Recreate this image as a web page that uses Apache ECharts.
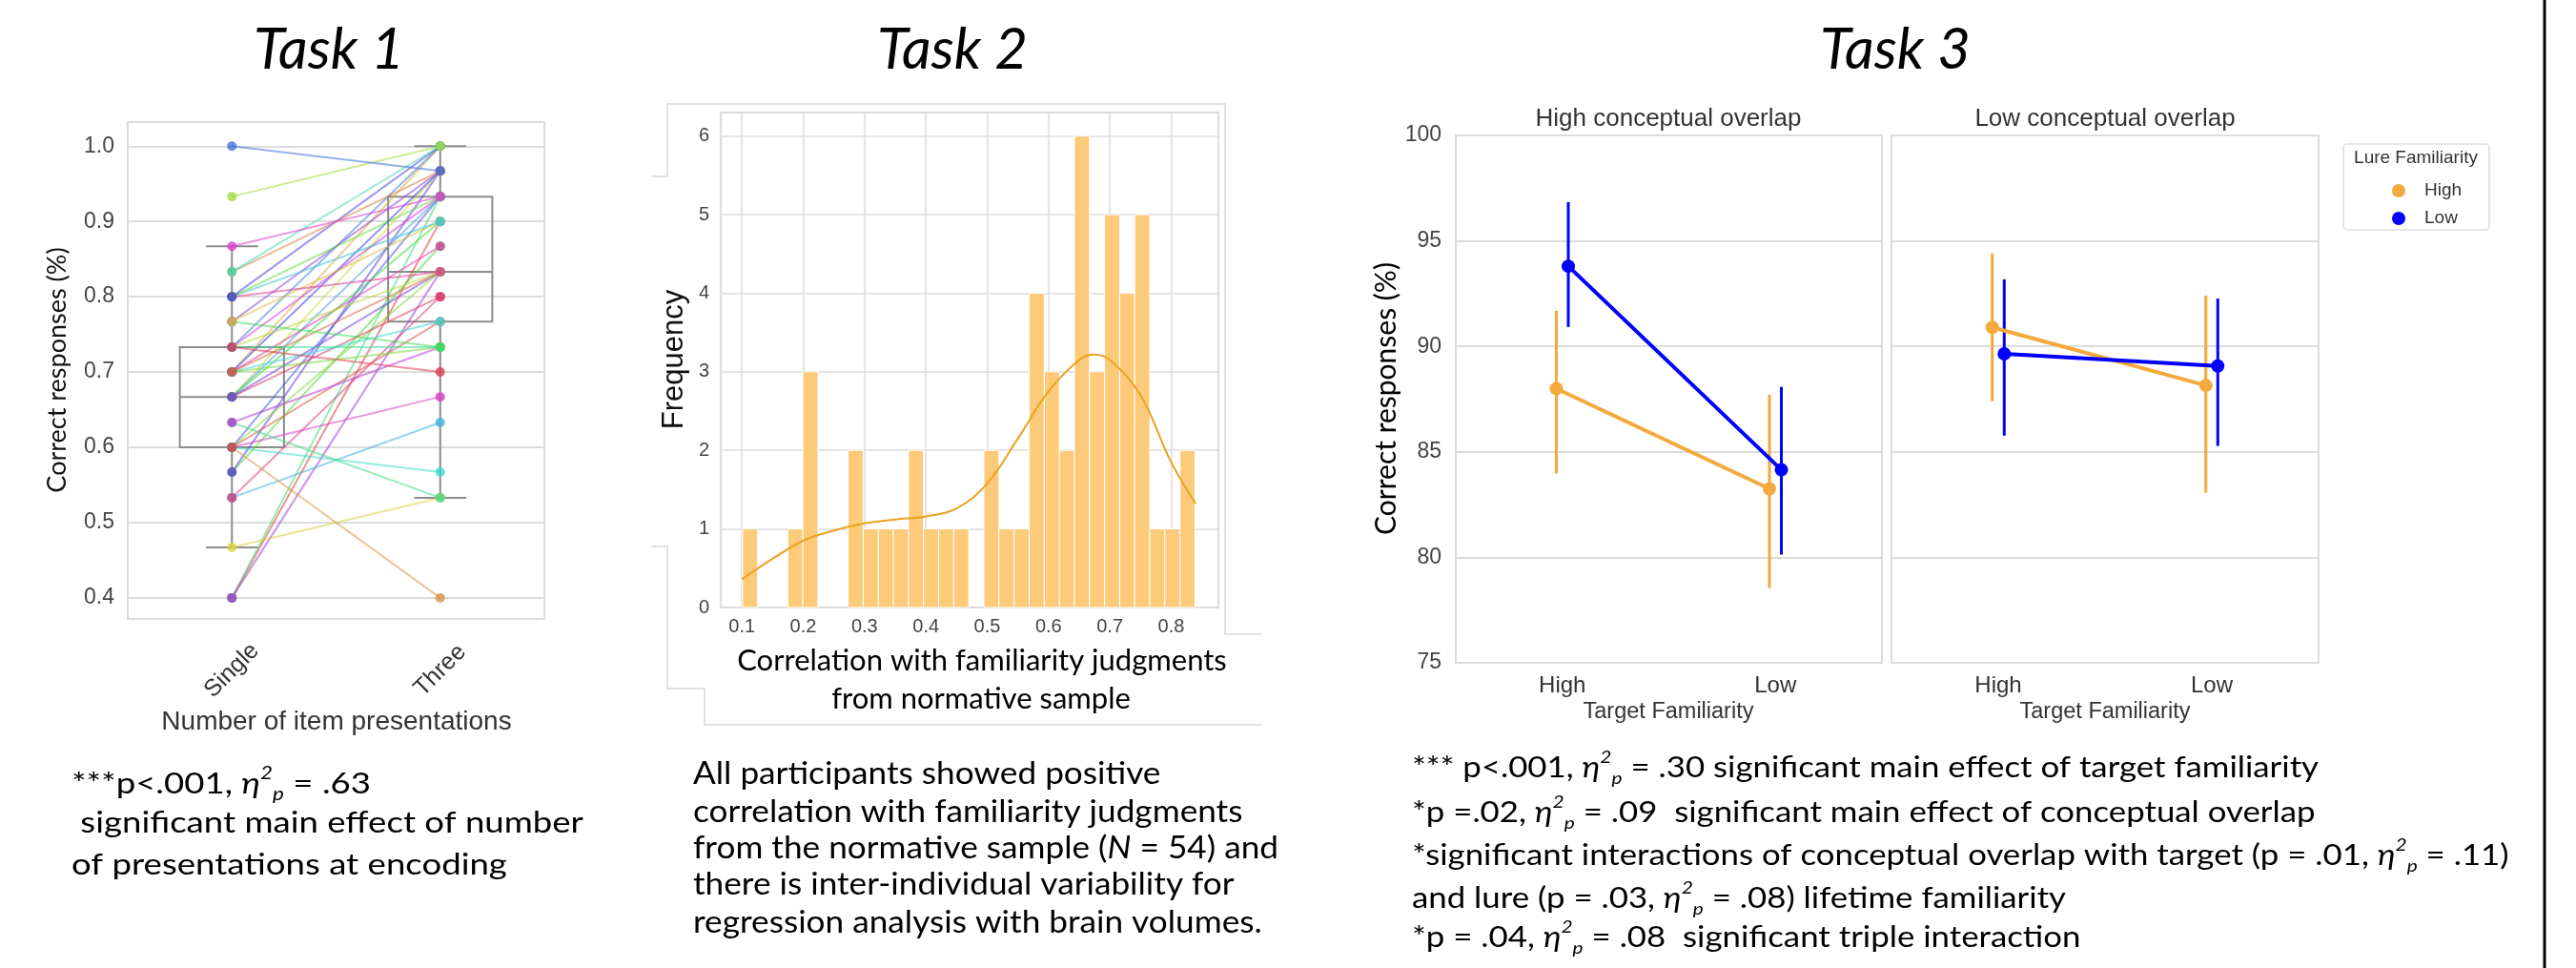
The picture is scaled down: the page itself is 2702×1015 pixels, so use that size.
<!DOCTYPE html>
<html>
<head>
<meta charset="utf-8">
<script src="https://cdn.jsdelivr.net/npm/echarts@6/dist/echarts.min.js"></script>
<style>
  html, body { margin: 0; padding: 0; background: #fff; }
  #main { width: 2702px; height: 1015px; }
</style>
</head>
<body>
<div id="main"></div>
<script>
// ---- Task 1: paired correct responses, single vs three presentations
const presentations = ['Single', 'Three'];
const singleVals = [0.400, 0.400, 0.400, 0.467, 0.533, 0.533, 0.567, 0.567, 0.600, 0.600, 0.600,
  0.600, 0.600, 0.600, 0.633, 0.633, 0.667, 0.667, 0.667, 0.667, 0.667, 0.700, 0.700, 0.700,
  0.700, 0.700, 0.700, 0.733, 0.733, 0.733, 0.733, 0.733, 0.767, 0.767, 0.767, 0.800, 0.800,
  0.800, 0.800, 0.833, 0.833, 0.867, 0.933, 1.000];
const threeVals = [0.900, 0.933, 0.833, 0.533, 0.633, 0.800, 0.867, 0.967, 0.400, 0.567, 0.667,
  0.833, 0.933, 0.767, 0.533, 0.733, 0.967, 0.933, 0.800, 0.900, 0.833, 1.000, 0.767, 0.867,
  0.733, 0.967, 0.833, 0.733, 0.933, 0.833, 1.000, 0.700, 0.733, 0.967, 0.900, 0.900, 0.833,
  0.933, 1.000, 0.967, 1.000, 0.933, 1.000, 0.967];
// [lower whisker, q1, median, q3, upper whisker]
const boxSingle = [0.467, 0.600, 0.667, 0.733, 0.867];
const boxThree = [0.533, 0.767, 0.833, 0.933, 1.000];
const t1Ticks = [0.4, 0.5, 0.6, 0.7, 0.8, 0.9, 1.0];

// ---- Task 2: histogram of correlations
const binStart = 0.101;
const binWidth = 0.0246;
const binCounts = [1, 0, 0, 1, 3, 0, 0, 2, 1, 1, 1, 2, 1, 1, 1, 0, 2, 1, 1, 4, 3, 2, 6, 3, 5, 4, 5, 1, 1, 2];
const kdeX = [0.10, 0.15, 0.20, 0.25, 0.30, 0.35, 0.40, 0.45, 0.50, 0.55, 0.60, 0.65, 0.675, 0.70, 0.75, 0.80, 0.84];
const kdeY = [0.36, 0.62, 0.85, 0.98, 1.07, 1.12, 1.16, 1.26, 1.58, 2.15, 2.75, 3.15, 3.22, 3.15, 2.70, 1.85, 1.32];
const t2XTicks = [0.1, 0.2, 0.3, 0.4, 0.5, 0.6, 0.7, 0.8];
const t2YTicks = [0, 1, 2, 3, 4, 5, 6];

// ---- Task 3: point plot, mean and CI per target familiarity
const overlapPanels = ['High conceptual overlap', 'Low conceptual overlap'];
const targetLevels = ['High', 'Low'];
const lureLevels = ['High', 'Low'];
const hiOverlapLureHigh = [88.0, 83.25];
const hiOverlapLureHighCI = [[83.97, 91.69], [78.55, 87.71]];
const hiOverlapLureLow = [93.8, 84.15];
const hiOverlapLureLowCI = [[90.92, 96.84], [80.13, 88.08]];
const loOverlapLureHigh = [90.9, 88.15];
const loOverlapLureHighCI = [[87.4, 94.4], [83.06, 92.41]];
const loOverlapLureLow = [89.65, 89.07];
const loOverlapLureLowCI = [[85.77, 93.18], [85.28, 92.27]];

const SANS = 'Liberation Sans, Arial, sans-serif';
const BODY = 'Lato, Open Sans, sans-serif';
const GRID_C = '#dcdcdc';
const ORANGE = '#f4a93c';
const BLUE = '#0000ff';
const DODGE = 0.028;

function pairColor(i) {
  const n = singleVals.length;
  const h = ((i * 17) % n) / n * 360;
  return 'hsl(' + h.toFixed(0) + ',68%,55%)';
}

// rich text styles for captions (eta squared with sub/superscript)
function richStyles(fs) {
  const small = Math.round(fs * 0.6);
  return {
    t: { fontSize: fs, fontFamily: BODY, fill: '#000', lineHeight: fs + 10 },
    i: { fontSize: fs, fontFamily: BODY, fontStyle: 'italic', fill: '#000', lineHeight: fs + 10 },
    sup: { fontSize: small, fontFamily: BODY, fontStyle: 'italic', fill: '#000', verticalAlign: 'top', lineHeight: small },
    sub: { fontSize: small, fontFamily: BODY, fontStyle: 'italic', fill: '#000', verticalAlign: 'bottom', lineHeight: small }
  };
}
const eta = '{i|η}{sup|2}{sub|p}';

function caption(x, y, text, fs, sx) {
  return {
    type: 'text', x: x, y: y, scaleX: sx, silent: true,
    style: { text: text, rich: richStyles(fs), align: 'left', verticalAlign: 'middle' }
  };
}
function label(x, y, text, fs, font, color, extra) {
  return Object.assign({
    type: 'text', x: x, y: y, silent: true,
    style: { text: text, fontSize: fs, fontFamily: font, fill: color, align: 'center', verticalAlign: 'middle' }
  }, extra || {});
}
function title(x, text) {
  return {
    type: 'text', x: x, y: 53, silent: true,
    style: { text: text, fontSize: 60, fontFamily: BODY, fontStyle: 'italic', fill: '#000', align: 'center', verticalAlign: 'middle' }
  };
}

const chart = echarts.init(document.getElementById('main'), null, { renderer: 'canvas' });

const t3Series = [];
const panelData = [
  [hiOverlapLureHigh, hiOverlapLureHighCI, hiOverlapLureLow, hiOverlapLureLowCI],
  [loOverlapLureHigh, loOverlapLureHighCI, loOverlapLureLow, loOverlapLureLowCI]
];
panelData.forEach(function (pd, p) {
  const axis = 2 + p;
  [[pd[0], pd[1], ORANGE, -DODGE, lureLevels[0]], [pd[2], pd[3], BLUE, DODGE, lureLevels[1]]].forEach(function (s) {
    const means = s[0], ci = s[1], color = s[2], off = s[3];
    t3Series.push({
      type: 'custom', name: 'ci', xAxisIndex: axis, yAxisIndex: axis, z: 2,
      data: ci.map(function (c, k) { return [k + off, c[0], c[1]]; }),
      renderItem: function (params, api) {
        const a = api.coord([api.value(0), api.value(1)]);
        const b = api.coord([api.value(0), api.value(2)]);
        return { type: 'line', shape: { x1: a[0], y1: a[1], x2: b[0], y2: b[1] }, style: { stroke: color, lineWidth: 3 } };
      }
    });
    t3Series.push({
      type: 'line', name: s[4], xAxisIndex: axis, yAxisIndex: axis, z: 3,
      data: means.map(function (m, k) { return [k + off, m]; }),
      symbol: 'circle', symbolSize: 14,
      itemStyle: { color: color }, lineStyle: { color: color, width: 4 }
    });
  });
});

const option = {
  animation: false,
  backgroundColor: '#fff',
  grid: [
    { left: 134, top: 128, width: 437, height: 521, show: true, borderColor: GRID_C, borderWidth: 2 },
    { left: 756, top: 118, width: 522, height: 519, show: true, borderColor: GRID_C, borderWidth: 2 },
    { left: 1527, top: 142, width: 447, height: 553, show: true, borderColor: GRID_C, borderWidth: 2 },
    { left: 1984, top: 142, width: 448, height: 553, show: true, borderColor: GRID_C, borderWidth: 2 }
  ],
  xAxis: [
    {
      gridIndex: 0, type: 'category', data: presentations, boundaryGap: true,
      axisLine: { show: false }, axisTick: { show: false }, splitLine: { show: false },
      axisLabel: { rotate: 45, align: 'center', verticalAlign: 'middle', margin: 54, fontSize: 25, fontFamily: SANS, color: '#333' }
    },
    {
      gridIndex: 1, type: 'value', min: 0.0655, max: 0.877,
      axisLine: { show: false }, axisTick: { show: false, customValues: t2XTicks },
      axisLabel: { customValues: t2XTicks, formatter: function (v) { return v.toFixed(1); }, margin: 10, fontSize: 20, fontFamily: SANS, color: '#444' },
      splitLine: { show: true, lineStyle: { color: GRID_C, width: 1.5 } }
    },
    {
      gridIndex: 2, type: 'value', min: -0.5, max: 1.5,
      axisLine: { show: false }, axisTick: { show: false, customValues: [0, 1] },
      axisLabel: { customValues: [0, 1], formatter: function (v) { return targetLevels[Math.round(v)]; }, margin: 12, fontSize: 24, fontFamily: SANS, color: '#333' },
      splitLine: { show: false }
    },
    {
      gridIndex: 3, type: 'value', min: -0.5, max: 1.5,
      axisLine: { show: false }, axisTick: { show: false, customValues: [0, 1] },
      axisLabel: { customValues: [0, 1], formatter: function (v) { return targetLevels[Math.round(v)]; }, margin: 12, fontSize: 24, fontFamily: SANS, color: '#333' },
      splitLine: { show: false }
    }
  ],
  yAxis: [
    {
      gridIndex: 0, type: 'value', min: 0.372, max: 1.032,
      axisLine: { show: false }, axisTick: { show: false, customValues: t1Ticks },
      axisLabel: { customValues: t1Ticks, formatter: function (v) { return v.toFixed(1); }, margin: 14, fontSize: 23, fontFamily: SANS, color: '#444' },
      splitLine: { show: true, lineStyle: { color: GRID_C, width: 2 } }
    },
    {
      gridIndex: 1, type: 'value', min: 0, max: 6.3,
      axisLine: { show: false }, axisTick: { show: false, customValues: t2YTicks },
      axisLabel: { customValues: t2YTicks, margin: 12, fontSize: 20, fontFamily: SANS, color: '#444' },
      splitLine: { show: true, lineStyle: { color: GRID_C, width: 1.5 } }
    },
    {
      gridIndex: 2, type: 'value', min: 75, max: 100, interval: 5,
      axisLine: { show: false }, axisTick: { show: false },
      axisLabel: { margin: 15, fontSize: 23, fontFamily: SANS, color: '#444' },
      splitLine: { show: true, lineStyle: { color: GRID_C, width: 2 } }
    },
    {
      gridIndex: 3, type: 'value', min: 75, max: 100, interval: 5,
      axisLine: { show: false }, axisTick: { show: false }, axisLabel: { show: false },
      splitLine: { show: true, lineStyle: { color: GRID_C, width: 2 } }
    }
  ],
  legend: {
    data: lureLevels, orient: 'vertical', left: 2504, top: 185,
    icon: 'circle', itemWidth: 32, itemHeight: 14, itemGap: 9,
    textStyle: { fontSize: 19, fontFamily: SANS, color: '#333', lineHeight: 20, padding: [0, 0, 0, 6] }
  },
  series: [
    {
      type: 'custom', name: 'box', xAxisIndex: 0, yAxisIndex: 0, z: 1,
      data: [[0].concat(boxSingle), [1].concat(boxThree)],
      renderItem: function (params, api) {
        const x = api.coord([api.value(0), api.value(3)])[0];
        const band = api.size([1, 0])[0];
        const half = band * 0.25, cap = band * 0.125;
        const y = [1, 2, 3, 4, 5].map(function (k) { return api.coord([api.value(0), api.value(k)])[1]; });
        const st = { stroke: '#8c8c8c', lineWidth: 2, fill: null };
        return {
          type: 'group', children: [
            { type: 'rect', shape: { x: x - half, y: y[3], width: half * 2, height: y[1] - y[3] }, style: st },
            { type: 'line', shape: { x1: x - half, y1: y[2], x2: x + half, y2: y[2] }, style: st },
            { type: 'line', shape: { x1: x, y1: y[3], x2: x, y2: y[4] }, style: st },
            { type: 'line', shape: { x1: x, y1: y[1], x2: x, y2: y[0] }, style: st },
            { type: 'line', shape: { x1: x - cap, y1: y[4], x2: x + cap, y2: y[4] }, style: st },
            { type: 'line', shape: { x1: x - cap, y1: y[0], x2: x + cap, y2: y[0] }, style: st }
          ]
        };
      }
    },
    {
      type: 'custom', name: 'pairs', xAxisIndex: 0, yAxisIndex: 0, z: 2,
      data: singleVals.map(function (s, i) { return [i, s, threeVals[i]]; }),
      renderItem: function (params, api) {
        const a = api.coord([0, api.value(1)]);
        const b = api.coord([1, api.value(2)]);
        return {
          type: 'line', shape: { x1: a[0], y1: a[1], x2: b[0], y2: b[1] },
          style: { stroke: pairColor(api.value(0)), lineWidth: 2, opacity: 0.55 }
        };
      }
    },
    {
      type: 'scatter', name: 'points', xAxisIndex: 0, yAxisIndex: 0, z: 3, symbolSize: 10,
      data: singleVals.map(function (v, i) { return { value: [0, v], itemStyle: { color: pairColor(i) } }; })
        .concat(threeVals.map(function (v, i) { return { value: [1, v], itemStyle: { color: pairColor(i) } }; }))
    },
    {
      type: 'custom', name: 'hist', xAxisIndex: 1, yAxisIndex: 1, z: 2,
      data: binCounts.map(function (c, i) { return [binStart + i * binWidth, c]; }).filter(function (d) { return d[1] > 0; }),
      renderItem: function (params, api) {
        const p0 = api.coord([api.value(0), api.value(1)]);
        const p1 = api.coord([api.value(0) + binWidth, 0]);
        return {
          type: 'rect', shape: { x: p0[0], y: p0[1], width: p1[0] - p0[0], height: p1[1] - p0[1] },
          style: { fill: '#fdca7a', stroke: '#fff', lineWidth: 1 }
        };
      }
    },
    {
      type: 'line', name: 'kde', xAxisIndex: 1, yAxisIndex: 1, z: 3, smooth: 0.4,
      showSymbol: false, lineStyle: { color: '#e9a220', width: 2 },
      data: kdeX.map(function (x, i) { return [x, kdeY[i]]; })
    }
  ].concat(t3Series),
  graphic: [
    title(345, 'Task 1'),
    title(999, 'Task 2'),
    title(1988, 'Task 3'),
    // Task 1 axis titles
    label(60, 388, 'Correct responses (%)', 27, BODY, '#111', { rotation: Math.PI / 2 }),
    label(353, 757, 'Number of item presentations', 28, SANS, '#333'),
    // Task 2 axis titles
    label(707, 377, 'Frequency', 31, SANS, '#111', { rotation: Math.PI / 2 }),
    label(1030, 693, 'Correlation with familiarity judgments', 31, BODY, '#000'),
    label(1029, 733, 'from normative sample', 31, BODY, '#000'),
    // Task 2 screenshot frame remnants
    { type: 'polyline', silent: true, shape: { points: [[683, 185], [700, 185], [700, 109], [1285, 109], [1285, 665], [1323, 665]] }, style: { stroke: '#e2e2e2', lineWidth: 2, fill: null } },
    { type: 'polyline', silent: true, shape: { points: [[683, 573], [700, 573], [700, 722], [739, 722], [739, 760], [1323, 760]] }, style: { stroke: '#e2e2e2', lineWidth: 2, fill: null } },
    // Task 3 titles
    label(1750, 125, overlapPanels[0], 26, SANS, '#333'),
    label(2208, 125, overlapPanels[1], 26, SANS, '#333'),
    label(1750, 747, 'Target Familiarity', 23.5, SANS, '#333'),
    label(2208, 747, 'Target Familiarity', 23.5, SANS, '#333'),
    label(1454, 418, 'Correct responses (%)', 30, BODY, '#000', { rotation: Math.PI / 2 }),
    // legend frame + title
    { type: 'rect', silent: true, z: -1, shape: { x: 2458, y: 151, width: 153, height: 90, r: 4 }, style: { fill: '#fff', stroke: '#dedede', lineWidth: 1.5 } },
    label(2534, 166, 'Lure Familiarity', 19, SANS, '#333'),
    // right border
    { type: 'line', silent: true, shape: { x1: 2669, y1: 0, x2: 2669, y2: 1015 }, style: { stroke: '#000', lineWidth: 3 } },
    // captions
    caption(75, 822, '{t|***p<.001, }' + eta + '{t| = .63}', 31, 1.18),
    caption(75, 863, '{t| significant main effect of number}', 31, 1.18),
    caption(75, 907, '{t|of presentations at encoding}', 31, 1.18),
    caption(727, 812, '{t|All participants showed positive}', 32, 1.1),
    caption(727, 852, '{t|correlation with familiarity judgments}', 32, 1.1),
    caption(727, 890, '{t|from the normative sample (}{i|N}{t| = 54) and}', 32, 1.1),
    caption(727, 928, '{t|there is inter-individual variability for}', 32, 1.1),
    caption(727, 968, '{t|regression analysis with brain volumes.}', 32, 1.1),
    caption(1481, 805, '{t|*** p<.001, }' + eta + '{t| = .30 significant main effect of target familiarity}', 30, 1.16),
    caption(1481, 852, '{t|*p =.02, }' + eta + '{t| = .09  significant main effect of conceptual overlap}', 30, 1.16),
    caption(1481, 897, '{t|*significant interactions of conceptual overlap with target (p = .01, }' + eta + '{t| = .11)}', 30, 1.16),
    caption(1481, 942, '{t|and lure (p = .03, }' + eta + '{t| = .08) lifetime familiarity}', 30, 1.16),
    caption(1481, 983, '{t|*p = .04, }' + eta + '{t| = .08  significant triple interaction}', 30, 1.16)
  ]
};

chart.setOption(option);
</script>
</body>
</html>
